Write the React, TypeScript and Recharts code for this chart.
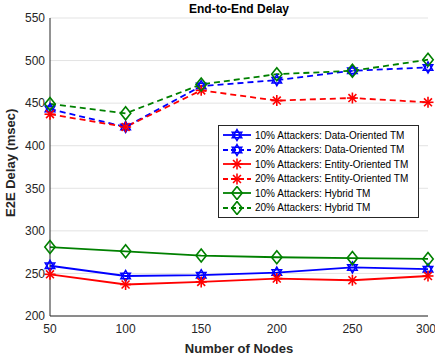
import React from "react"
import { LineChart, Line, XAxis, YAxis, CartesianGrid } from "recharts"

const nodes = [50, 100, 150, 200, 250, 300]
const do10 = [259, 247, 248, 251, 257, 255]
const do20 = [443, 422, 470, 477, 488, 492]
const eo10 = [249, 237, 240, 244, 242, 247]
const eo20 = [437, 422, 465, 453, 456, 451]
const hy10 = [281, 276, 271, 269, 268, 267]
const hy20 = [449, 438, 472, 484, 488, 501]
const yTicks = [200, 250, 300, 350, 400, 450, 500, 550]

const data = nodes.map((n, i) => ({
  n,
  do10: do10[i],
  do20: do20[i],
  eo10: eo10[i],
  eo20: eo20[i],
  hy10: hy10[i],
  hy20: hy20[i],
}))

const BLUE = "#0000ff"
const RED = "#ff0000"
const GREEN = "#008000"
const INK = "#262626"

type Shape = "hex" | "star" | "diamond"

function Marker({ cx, cy, shape, color }: { cx: number, cy: number, shape: Shape, color: string }) {
  if (cx == null || cy == null) return null
  if (shape === "hex") {
    const r = 5.5
    const tri = (rot: number) =>
      [0, 1, 2].map(k => {
        const a = rot + (k * 2 * Math.PI) / 3
        return `${cx + r * Math.sin(a)},${cy - r * Math.cos(a)}`
      }).join(" ")
    return (
      <g fill="none" stroke={color} strokeWidth={1.5}>
        <polygon points={tri(0)} />
        <polygon points={tri(Math.PI)} />
      </g>
    )
  }
  if (shape === "star") {
    const r = 5.5
    const d = r * 0.72
    return (
      <g stroke={color} strokeWidth={1.6}>
        <line x1={cx - r} y1={cy} x2={cx + r} y2={cy} />
        <line x1={cx} y1={cy - r} x2={cx} y2={cy + r} />
        <line x1={cx - d} y1={cy - d} x2={cx + d} y2={cy + d} />
        <line x1={cx - d} y1={cy + d} x2={cx + d} y2={cy - d} />
      </g>
    )
  }
  const r = 6.5
  return (
    <polygon
      points={`${cx},${cy - r} ${cx + r * 0.8},${cy} ${cx},${cy + r} ${cx - r * 0.8},${cy}`}
      fill="none"
      stroke={color}
      strokeWidth={1.6}
    />
  )
}

const series = [
  { key: "do10", name: "10% Attackers: Data-Oriented TM", color: BLUE, dash: undefined, shape: "hex" as Shape },
  { key: "do20", name: "20% Attackers: Data-Oriented TM", color: BLUE, dash: "6 4", shape: "hex" as Shape },
  { key: "eo10", name: "10% Attackers: Entity-Oriented TM", color: RED, dash: undefined, shape: "star" as Shape },
  { key: "eo20", name: "20% Attackers: Entity-Oriented TM", color: RED, dash: "6 4", shape: "star" as Shape },
  { key: "hy10", name: "10% Attackers: Hybrid TM", color: GREEN, dash: undefined, shape: "diamond" as Shape },
  { key: "hy20", name: "20% Attackers: Hybrid TM", color: GREEN, dash: "6 4", shape: "diamond" as Shape },
]

function LegendBox() {
  return (
    <div
      style={{
        position: "absolute",
        left: 218,
        top: 125,
        background: "white",
        border: `1px solid ${INK}`,
        padding: "2px 4px 2px 3px",
        fontFamily: "Liberation Sans, Arial, sans-serif",
        fontSize: 10,
        color: "#000",
        width: 192,
        boxSizing: "content-box",
      }}
    >
      {series.map(s => (
        <div key={s.key} style={{ display: "flex", alignItems: "center", height: 14.5 }}>
          <svg width={30} height={14} style={{ flex: "none" }}>
            <line x1={1} y1={7} x2={29} y2={7} stroke={s.color} strokeWidth={1.8} strokeDasharray={s.dash ? "5 3" : undefined} />
            <Marker cx={15} cy={7} shape={s.shape} color={s.color} />
          </svg>
          <span style={{ marginLeft: 3, whiteSpace: "nowrap" }}>{s.name}</span>
        </div>
      ))}
    </div>
  )
}

export default function App() {
  const font = "Liberation Sans, Arial, sans-serif"
  return (
    <div style={{ position: "fixed", left: 0, top: 0, width: 435, height: 355, background: "white", fontFamily: font }}>
      <div
        style={{
          position: "absolute",
          left: 50,
          width: 378,
          top: 2,
          textAlign: "center",
          fontWeight: "bold",
          fontSize: 12,
          color: "#000",
        }}
      >
        End-to-End Delay
      </div>
      <LineChart width={435} height={355} data={data} margin={{ top: 18, right: 7, bottom: 0, left: 0 }}>
        <CartesianGrid vertical={false} stroke="#e3e3e3" />
        <XAxis
          dataKey="n"
          type="number"
          domain={[50, 300]}
          ticks={nodes}
          height={39}
          tickLine={false}
          stroke={INK}
          tick={{ fill: INK, fontSize: 12, fontFamily: font }}
          label={{ value: "Number of Nodes", position: "insideBottom", offset: 2, fill: INK, fontSize: 13, fontWeight: "bold", fontFamily: font }}
        />
        <XAxis
          xAxisId="top"
          dataKey="n"
          type="number"
          orientation="top"
          domain={[50, 300]}
          ticks={nodes}
          mirror
          tickSize={4}
          height={0}
          stroke={INK}
          tickFormatter={() => ""}
        />
        <YAxis
          domain={[200, 550]}
          ticks={yTicks}
          width={50}
          tickLine={false}
          tickSize={3}
          stroke={INK}
          tick={{ fill: INK, fontSize: 12, fontFamily: font }}
          label={{ value: "E2E Delay (msec)", angle: -90, position: "insideLeft", offset: 10, dy: 50, fill: INK, fontSize: 13, fontWeight: "bold", fontFamily: font }}
        />
        <YAxis
          yAxisId="right"
          orientation="right"
          domain={[200, 550]}
          ticks={yTicks}
          mirror
          width={0}
          tickSize={4}
          stroke={INK}
          tickFormatter={() => ""}
        />
        {series.map(s => (
          <Line
            key={s.key}
            dataKey={s.key}
            name={s.name}
            stroke={s.color}
            strokeWidth={1.8}
            strokeDasharray={s.dash}
            isAnimationActive={false}
            dot={(p: any) => <Marker key={`${s.key}-${p.index}`} cx={p.cx} cy={p.cy} shape={s.shape} color={s.color} />}
            activeDot={false}
          />
        ))}
      </LineChart>
      <LegendBox />
    </div>
  )
}
